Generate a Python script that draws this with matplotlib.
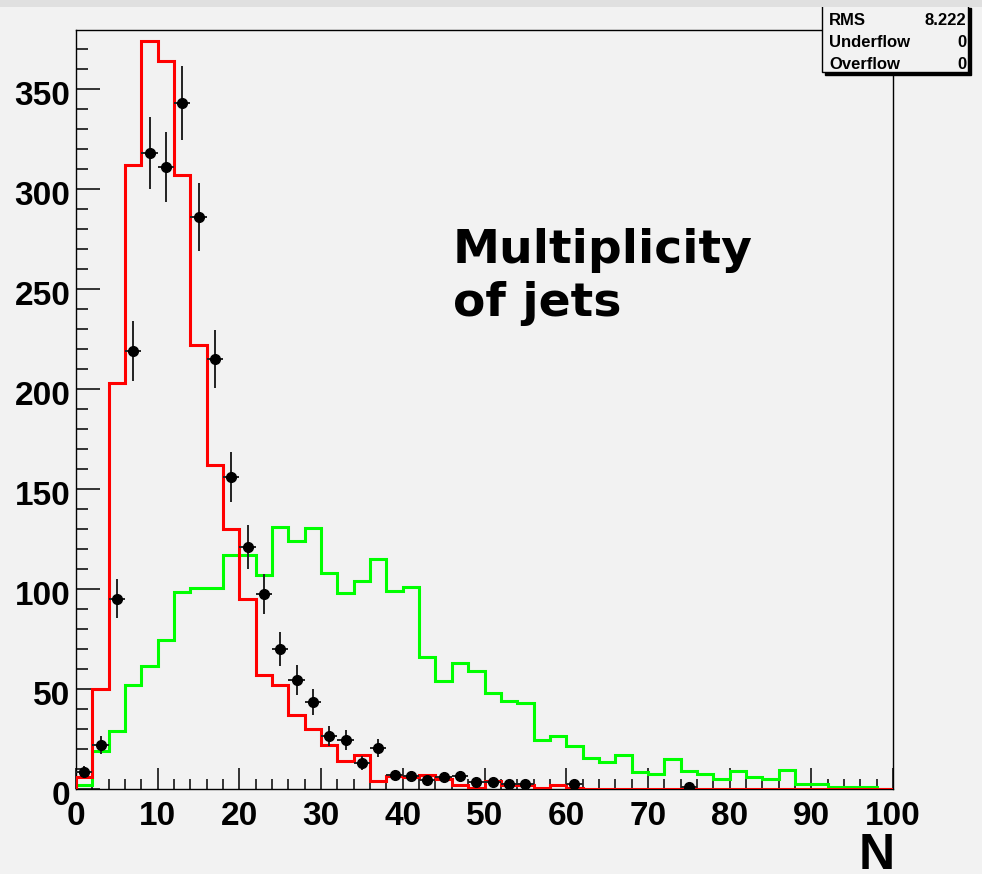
#!/usr/bin/env python3
"""Jet multiplicity histogram, ROOT style."""

import numpy as np
import matplotlib
matplotlib.use('Agg')
import matplotlib.pyplot as plt
import matplotlib.transforms as mtransforms
from matplotlib.patches import Rectangle

# Data (bins of width 2 from 0 to 100)
bin_edges = np.arange(0, 102, 2)

red_counts = [6, 50, 203, 312, 374, 364, 307, 222, 162, 130,
              95, 57, 52, 37, 30, 22, 14, 17, 4, 6.5,
              6, 7, 5, 2, 0.5, 4, 2, 2, 0.5, 2,
              0.5, 0, 0, 0, 0, 0, 0, 0, 0, 0,
              0, 0, 0, 0, 0, 0, 0, 0, 0, 0]

green_counts = [2, 19, 29, 52, 61.5, 74.5, 98.5, 100.5, 100.5, 117,
                117, 107, 131, 124, 130.5, 108, 98, 104, 115, 99,
                101, 66, 54, 63, 59, 48, 44, 43, 24.5, 26.5,
                21.5, 15.7, 13.3, 17, 8.7, 7.3, 15, 9, 7.3, 4.8,
                9, 6, 4.8, 9.5, 2.3, 2.3, 1, 1, 1, 0]

data_x = [1, 3, 5, 7, 9, 11, 13, 15, 17, 19,
          21, 23, 25, 27, 29, 31, 33, 35, 37, 39,
          41, 43, 45, 47, 49, 51, 53, 55, 61, 75]
data_y = [8.5, 22, 95, 219, 318, 311, 343, 286, 215, 156,
          121, 97.5, 70, 54.5, 43.5, 26.5, 24.5, 13, 20.5, 7,
          6.5, 4.5, 6, 6.5, 3.5, 3.5, 2.5, 2.5, 2.5, 1]

stat_names = ['RMS', 'Underflow', 'Overflow']
stat_values = ['8.222', '0', '0']

bg = '#f2f2f2'
sans = ['Liberation Sans', 'DejaVu Sans']

fig = plt.figure(figsize=(9.82, 8.74), dpi=100, facecolor=bg)
ax = fig.add_axes([0.0774, 0.0973, 0.8320, 0.8684])
ax.set_facecolor(bg)

ax.stairs(green_counts, bin_edges, color='#00ff00', linewidth=2.2, baseline=0, zorder=2)
ax.stairs(red_counts, bin_edges, color='#ff0000', linewidth=2.2, baseline=0, zorder=3)
ax.errorbar(data_x, data_y, yerr=np.sqrt(data_y), xerr=1, fmt='o', color='black',
            markersize=7, ecolor='#222222', elinewidth=1.4, capsize=0, zorder=4)

ax.set_xlim(0, 100)
ax.set_ylim(0, 379.5)
ax.set_xticks(np.arange(0, 101, 10))
ax.set_xticks(np.arange(0, 101, 2), minor=True)
ax.set_yticks(np.arange(0, 351, 50))
ax.set_yticks(np.arange(0, 371, 10), minor=True)

for s in ax.spines.values():
    s.set_linewidth(1.0)
    s.set_color('black')

ax.tick_params(axis='y', which='major', direction='in', length=17, width=1.1, pad=4)
ax.tick_params(axis='y', which='minor', direction='in', length=8.5, width=1.1)
ax.tick_params(axis='x', which='major', direction='in', length=15, width=1.1, pad=8.5)
ax.tick_params(axis='x', which='minor', direction='in', length=7.5, width=1.1)

# ROOT puts the y labels a little below their ticks
shift_down = mtransforms.ScaledTranslation(0, -3 / 72, fig.dpi_scale_trans)
for lbl in ax.get_xticklabels() + ax.get_yticklabels():
    lbl.set_fontfamily(sans)
    lbl.set_fontweight('bold')
    lbl.set_fontsize(24)
for lbl in ax.get_yticklabels():
    lbl.set_transform(lbl.get_transform() + shift_down)

# axis title at the right end, below the tick labels
fig.text(895 / 982, 1 - 833 / 874, 'N', ha='right', va='top',
         fontsize=36, fontweight='bold', family=sans)

# label inside the plot
fig.text(453 / 982, 1 - 316 / 874, 'Multiplicity\nof jets', ha='left', va='baseline',
         fontsize=34, fontweight='bold', family='DejaVu Sans', linespacing=1.24)

# stats box with shadow
box_l, box_r = 822 / 982, 968 / 982
box_b, box_t = 1 - 72 / 874, 1 - 5 / 874
fig.patches.append(Rectangle((box_l + 3 / 982, box_b - 3 / 874), box_r - box_l, box_t - box_b,
                             transform=fig.transFigure, facecolor='black',
                             edgecolor='black', zorder=5))
fig.patches.append(Rectangle((box_l, box_b), box_r - box_l, box_t - box_b,
                             transform=fig.transFigure, facecolor=bg,
                             edgecolor='black', linewidth=1.0, zorder=6))
for i, (name, val) in enumerate(zip(stat_names, stat_values)):
    y = 1 - (25 + 22 * i) / 874
    fig.text(829 / 982, y, name, ha='left', va='baseline', fontsize=12,
             fontweight='bold', family=sans, zorder=7)
    fig.text(966 / 982, y, val, ha='right', va='baseline', fontsize=12,
             fontweight='bold', family=sans, zorder=7)

# grey strip at the very top
fig.patches.append(Rectangle((0, 1 - 7 / 874), 1, 7 / 874, transform=fig.transFigure,
                             facecolor='#e0e0e0', edgecolor='none', zorder=10))

plt.savefig('out.png', dpi=100, facecolor=bg)
plt.close()
